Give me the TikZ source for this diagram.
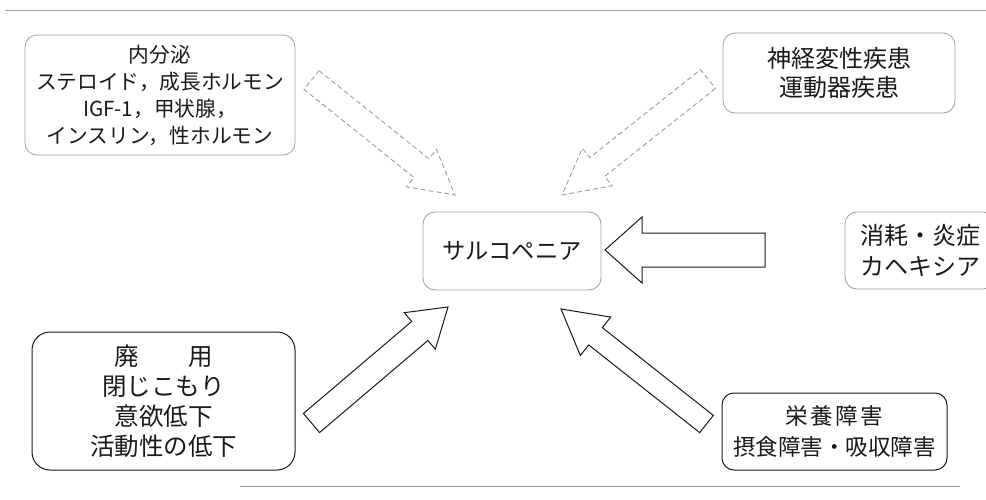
\documentclass[tikz,border=0pt]{standalone}
\usepackage{fontspec}
\usetikzlibrary{calc}
\newfontfamily\jp{Noto Sans CJK JP}
\definecolor{faint}{gray}{0.62}
\definecolor{ink}{gray}{0.1}

% Hollow block arrow: [style]{tail}{tip}{shaft half width}{head half width}{head length}
\newcommand{\fatarrow}[6][]{%
  \coordinate (fa-neck) at ($(#3)!#6!(#2)$);
  \draw[#1] ($(#2)!#4!90:(#3)$) -- ($(fa-neck)!#4!90:(#3)$) -- ($(fa-neck)!#5!90:(#3)$)
    -- (#3) -- ($(fa-neck)!#5!-90:(#3)$) -- ($(fa-neck)!#4!-90:(#3)$)
    -- ($(#2)!#4!-90:(#3)$) -- cycle;}

\begin{document}
\begin{tikzpicture}[x=1pt,y=-1pt,
  box/.style={draw=ink, line width=1pt, rounded corners=12pt, inner sep=0pt,
    align=center, text=ink},
  faintbox/.style={box, draw=faint, line width=0.8pt},
  solidarrow/.style={draw=ink, line width=1pt, line join=miter, fill=white},
  faintarrow/.style={draw=faint, line width=0.9pt, dash pattern=on 5pt off 3pt, fill=white},
  frameline/.style={draw=faint, line width=0.8pt}]
\useasboundingbox (0,0) rectangle (986,499);
\clip (0,0) rectangle (986,499);

% outer frame rules
\coordinate (topL) at (5,10);
\coordinate (topR) at (986,10);
\coordinate (botL) at (240,486);
\coordinate (botR) at (960,486);
\draw[frameline] (topL) -- (topR);
\draw[frameline] (botL) -- (botR);

% causes and the central condition
\node[faintbox, minimum width=270pt, minimum height=120pt,
  font=\jp\fontsize{20.7}{27}\selectfont] (endo) at (160,95)
  {内分泌\\ステロイド，成長ホルモン\\IGF-1，甲状腺，\\インスリン，性ホルモン};
\node[faintbox, minimum width=232pt, minimum height=80pt,
  font=\jp\fontsize{24}{29}\selectfont] (neuro) at (839,73)
  {神経変性疾患\\運動器疾患};
\node[faintbox, minimum width=178pt, minimum height=78pt,
  font=\jp\fontsize{23.3}{28}\selectfont] (sarco) at (512,251)
  {サルコペニア};
\node[faintbox, minimum width=150pt, minimum height=77pt,
  font=\jp\fontsize{24}{31}\selectfont] (cachexia) at (920,250.5)
  {消耗・炎症\\カヘキシア};
\node[box, rounded corners=18pt, minimum width=263pt, minimum height=138pt,
  font=\jp\fontsize{24.5}{30}\selectfont] (disuse) at (163.5,401)
  {廃　　用\\閉じこもり\\意欲低下\\活動性の低下};
\node[box, minimum width=225pt, minimum height=77pt,
  font=\jp\fontsize{22.5}{31}\selectfont] (nutrition) at (834.5,431.5)
  {栄\kern2.5pt 養\kern2.5pt 障\kern2.5pt 害\\摂食障害・吸収障害};

% arrow ends
\coordinate (endoTail) at (311.5,80);
\coordinate (endoTip) at (455,195);
\coordinate (neuroTail) at (708,79);
\coordinate (neuroTip) at (562,195);
\coordinate (cxTail) at (765,250);
\coordinate (cxTip) at (605,250);
\coordinate (disTail) at (311.5,423);
\coordinate (disTip) at (448,307);
\coordinate (nutTail) at (706.5,424);
\coordinate (nutTip) at (561,309);

% block arrows pointing at the central condition
\fatarrow[faintarrow]{endoTail}{endoTip}{12pt}{24pt}{43pt}
\fatarrow[faintarrow]{neuroTail}{neuroTip}{12pt}{24pt}{45pt}
\fatarrow[solidarrow]{cxTail}{cxTip}{17pt}{33pt}{37pt}
\fatarrow[solidarrow]{disTail}{disTip}{12.5pt}{24pt}{37pt}
\fatarrow[solidarrow]{nutTail}{nutTip}{11pt}{24.5pt}{44pt}
\end{tikzpicture}
\end{document}
